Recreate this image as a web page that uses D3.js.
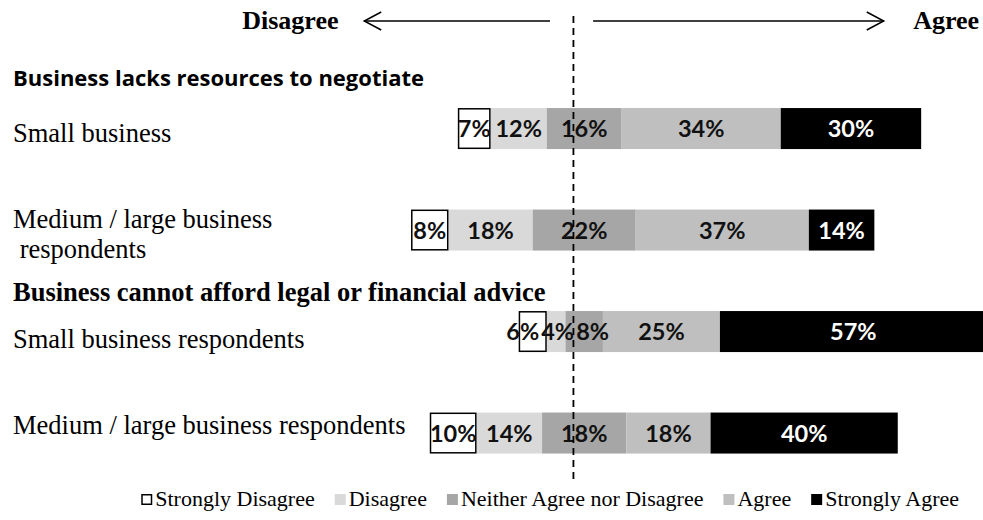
<!DOCTYPE html>
<html>
<head>
<meta charset="utf-8">
<script src="https://cdn.jsdelivr.net/npm/d3@7"></script>
<style>
  body { margin: 0; background: #fff; }
  svg { display: block; }
</style>
</head>
<body>
<svg id="chart" width="983" height="520"></svg>
<script>
// Survey responses, one entry per row (top to bottom)
const responses = ["Strongly Disagree", "Disagree", "Neither Agree nor Disagree", "Agree", "Strongly Agree"];
const rowKeys = ["lacks-small", "lacks-medium", "afford-small", "afford-medium"];
const rowLabels = [
  ["Small business"],
  ["Medium / large business", " respondents"],
  ["Small business respondents"],
  ["Medium / large business respondents"]
];
const groupTitles = ["Business lacks resources to negotiate", "Business cannot afford legal or financial advice"];
const stronglyDisagree = [7, 8, 6, 10];
const disagree = [12, 18, 4, 14];
const neutral = [16, 22, 8, 18];
const agree = [34, 37, 25, 18];
const stronglyAgree = [30, 14, 57, 40];
const directionLabels = ["Disagree", "Agree"];

// Styling
const fills = ["#ffffff", "#d9d9d9", "#a6a6a6", "#bfbfbf", "#000000"];
const labelColors = ["#111", "#111", "#111", "#111", "#fff"];
const serif = "'Liberation Serif', 'Times New Roman', serif";
const sans = "Lato, 'Open Sans', sans-serif";

const width = 983, height = 520;
const svg = d3.select("#chart");

// Diverging scale: 0 sits at the middle of the neutral segment
const x = d3.scaleLinear().domain([-40, 85]).range([397, 982]);
const y = d3.scaleBand().domain(rowKeys).range([77.8, 483.8]).paddingInner(0.596).paddingOuter(0.298);

// Build stacked segments per row
const series = [stronglyDisagree, disagree, neutral, agree, stronglyAgree];
const rows = rowKeys.map((key, i) => {
  const vals = series.map(s => s[i]);
  let start = -(vals[0] + vals[1] + vals[2] / 2);
  const segs = vals.map((v, j) => {
    const seg = { key, row: i, cat: j, value: v, x0: start, x1: start + v };
    start += v;
    return seg;
  });
  return { key, segs };
});

// Bars
const barG = svg.append("g");
rows.forEach(r => {
  const g = barG.append("g");
  g.selectAll("rect").data(r.segs).join("rect")
    .attr("x", d => x(d.x0))
    .attr("y", y(r.key))
    .attr("width", d => x(d.x1) - x(d.x0))
    .attr("height", y.bandwidth())
    .attr("fill", d => fills[d.cat]);
});

// White box outlines drawn after fills so borders stay visible
rows.forEach(r => {
  const d = r.segs[0];
  barG.append("rect")
    .attr("x", x(d.x0) + 0.75)
    .attr("y", y(r.key) + 0.75)
    .attr("width", x(d.x1) - x(d.x0) - 1.5)
    .attr("height", y.bandwidth() - 1.5)
    .attr("fill", "none")
    .attr("stroke", "#000")
    .attr("stroke-width", 1.5);
});

// Divider line through the chart
const dividerAt = -2.3;
svg.append("line")
  .attr("x1", x(dividerAt)).attr("x2", x(dividerAt))
  .attr("y1", 16).attr("y2", 484)
  .attr("stroke", "#000")
  .attr("stroke-width", 1.8)
  .attr("stroke-dasharray", "7,5");

// Value labels, centred on their segments and nudged apart where narrow segments crowd them
rows.forEach(r => {
  const texts = barG.append("g").selectAll("text").data(r.segs).join("text")
    .attr("y", y(r.key) + y.bandwidth() / 2)
    .attr("dy", "0.36em")
    .attr("text-anchor", "middle")
    .attr("font-family", sans)
    .attr("font-weight", 700)
    .attr("font-size", 23.5)
    .attr("fill", d => labelColors[d.cat])
    .text(d => d.value + "%");
  const items = texts.nodes().map((n, i) => ({
    node: n, cx: x((r.segs[i].x0 + r.segs[i].x1) / 2), w: n.getComputedTextLength()
  }));
  const gap = 2;
  for (let pass = 0; pass < 30; pass++) {
    for (let i = 1; i < items.length; i++) {
      const a = items[i - 1], b = items[i];
      const overlap = (a.cx + a.w / 2 + gap) - (b.cx - b.w / 2);
      if (overlap > 0) { a.cx -= overlap / 2; b.cx += overlap / 2; }
    }
  }
  items.forEach(it => d3.select(it.node).attr("x", it.cx));
});

// Row labels
const rowLabelDy = [[13], [-2.5, 27.5], [16], [0.5]];
rowKeys.forEach((key, i) => {
  const cy = y(key) + y.bandwidth() / 2;
  rowLabels[i].forEach((line, k) => {
    svg.append("text")
      .attr("x", 13)
      .attr("y", cy + rowLabelDy[i][k])
      .attr("font-family", serif)
      .attr("font-size", 26.5)
      .attr("fill", "#000")
      .attr("xml:space", "preserve")
      .style("white-space", "pre")
      .text(line);
  });
});

// Group titles
svg.append("text")
  .attr("x", 13).attr("y", y(rowKeys[0]) - 22)
  .attr("font-family", "'Open Sans', Lato, sans-serif").attr("font-weight", 700).attr("font-size", 22)
  .attr("fill", "#000")
  .text(groupTitles[0]);
svg.append("text")
  .attr("x", 13).attr("y", y(rowKeys[2]) - 10)
  .attr("font-family", serif).attr("font-weight", 700).attr("font-size", 26.5)
  .attr("fill", "#000")
  .text(groupTitles[1]);

// Direction arrows
const arrowY = 21;
function arrow(xFrom, xTo) {
  const dir = Math.sign(xTo - xFrom);
  svg.append("line")
    .attr("x1", xFrom).attr("x2", xTo).attr("y1", arrowY).attr("y2", arrowY)
    .attr("stroke", "#000").attr("stroke-width", 1.5);
  svg.append("path")
    .attr("d", `M${xTo - dir * 17},${arrowY - 9} L${xTo},${arrowY} L${xTo - dir * 17},${arrowY + 9}`)
    .attr("fill", "none").attr("stroke", "#000").attr("stroke-width", 1.5);
}
arrow(x(-7.3), x(-47));
arrow(x(1.9), x(64));

svg.append("text")
  .attr("x", x(-52.5)).attr("y", 29)
  .attr("text-anchor", "end")
  .attr("font-family", serif).attr("font-weight", 700).attr("font-size", 26)
  .text(directionLabels[0]);
svg.append("text")
  .attr("x", x(70.3)).attr("y", 29)
  .attr("font-family", serif).attr("font-weight", 700).attr("font-size", 26)
  .text(directionLabels[1]);

// Legend
const legend = svg.append("g");
const sw = 11, legendGap = 20, legendFont = 22;
let lx = 0;
responses.forEach((name, i) => {
  const item = legend.append("g").attr("transform", `translate(${lx},0)`);
  item.append("rect")
    .attr("x", i === 0 ? 0.75 : 0).attr("y", -12 + (i === 0 ? 0.75 : 0))
    .attr("width", i === 0 ? sw - 1.5 : sw).attr("height", i === 0 ? sw - 1.5 : sw)
    .attr("fill", fills[i])
    .attr("stroke", i === 0 ? "#000" : "none")
    .attr("stroke-width", 1.5);
  const t = item.append("text")
    .attr("x", sw + 3).attr("y", 0)
    .attr("font-family", serif).attr("font-size", legendFont)
    .text(name);
  lx += sw + 3 + t.node().getComputedTextLength() + legendGap;
});
const legendWidth = lx - legendGap;
legend.attr("transform", `translate(${width - legendWidth - 24},506)`);
</script>
</body>
</html>
